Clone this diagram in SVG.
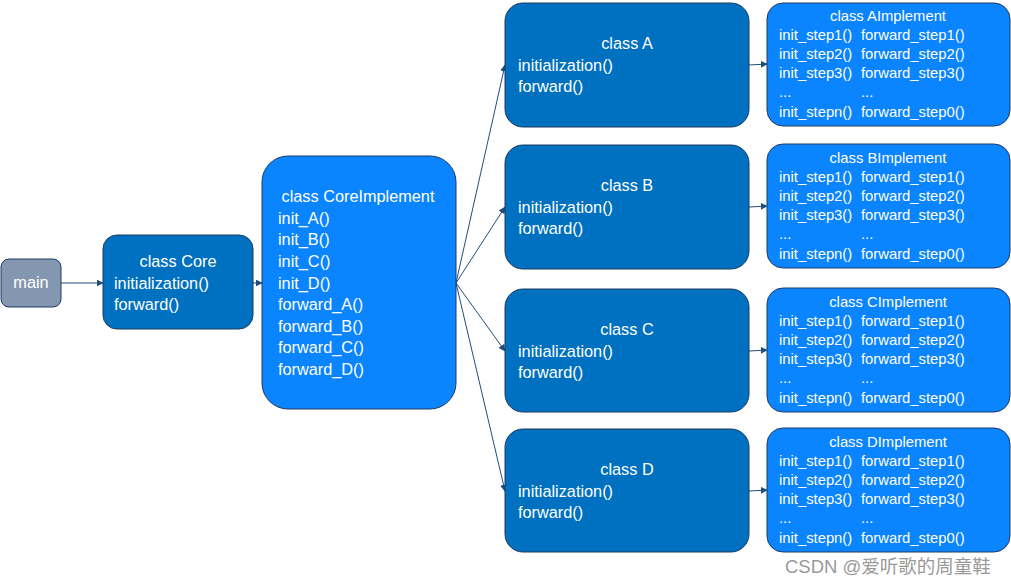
<svg xmlns="http://www.w3.org/2000/svg" width="1011" height="585" viewBox="0 0 1011 585">
<defs>
<style>
.box{stroke:#1F3A5F;stroke-width:1}
.dark{fill:#0070C0}
.light{fill:#0A84FF}
.gray{fill:#8497B0}
text{font-family:"Liberation Sans",Arial,sans-serif;fill:#fff}
.t16{font-size:16.3px}
.t14{font-size:14.8px}
.c{text-anchor:middle}
.conn{stroke:#1F4E79;stroke-width:1;fill:none}
</style>
<marker id="arr" viewBox="0 0 10 10" refX="9" refY="5" markerWidth="7" markerHeight="7" orient="auto" markerUnits="userSpaceOnUse">
<path d="M0,0 L10,5 L0,10 z" fill="#1F4E79"/>
</marker>
</defs>
<rect width="1011" height="585" fill="#fff"/>
<g id="connectors">
<line class="conn" x1="61" y1="283" x2="103" y2="283" marker-end="url(#arr)"/>
<line class="conn" x1="253" y1="283" x2="262" y2="283" marker-end="url(#arr)"/>
<line class="conn" x1="456" y1="283" x2="505" y2="65" marker-end="url(#arr)"/>
<line class="conn" x1="456" y1="283" x2="505" y2="207" marker-end="url(#arr)"/>
<line class="conn" x1="456" y1="283" x2="505" y2="351" marker-end="url(#arr)"/>
<line class="conn" x1="456" y1="283" x2="505" y2="491" marker-end="url(#arr)"/>
<line class="conn" x1="749" y1="65" x2="767" y2="64" marker-end="url(#arr)"/>
<line class="conn" x1="749" y1="207" x2="767" y2="206" marker-end="url(#arr)"/>
<line class="conn" x1="749" y1="351" x2="767" y2="350" marker-end="url(#arr)"/>
<line class="conn" x1="749" y1="491" x2="767" y2="490" marker-end="url(#arr)"/>
</g>
<g id="main">
<rect class="box gray" x="1" y="259" width="60" height="48" rx="8"/>
<text class="t16 c" x="31" y="288">main</text>
</g>
<g id="core">
<rect class="box dark" x="103" y="235" width="150" height="94" rx="14"/>
<text class="t16 c" x="178" y="267">class Core</text>
<text class="t16" x="114" y="289">initialization()</text>
<text class="t16" x="114" y="310">forward()</text>
</g>
<g id="coreImplement">
<rect class="box light" x="262" y="156" width="194" height="253" rx="26"/>
<text class="t16 c" x="358" y="202">class CoreImplement</text>
<text class="t16" x="278" y="224">init_A()</text>
<text class="t16" x="278" y="245">init_B()</text>
<text class="t16" x="278" y="267">init_C()</text>
<text class="t16" x="278" y="289">init_D()</text>
<text class="t16" x="278" y="310">forward_A()</text>
<text class="t16" x="278" y="332">forward_B()</text>
<text class="t16" x="278" y="353">forward_C()</text>
<text class="t16" x="278" y="375">forward_D()</text>
</g>
<g id="classA">
<rect class="box dark" x="505" y="3" width="244" height="124" rx="18"/>
<text class="t16 c" x="627" y="49">class A</text>
<text class="t16" x="518" y="71">initialization()</text>
<text class="t16" x="518" y="92">forward()</text>
</g>
<g id="classB">
<rect class="box dark" x="505" y="145" width="244" height="124" rx="18"/>
<text class="t16 c" x="627" y="191">class B</text>
<text class="t16" x="518" y="213">initialization()</text>
<text class="t16" x="518" y="234">forward()</text>
</g>
<g id="classC">
<rect class="box dark" x="505" y="289" width="244" height="123" rx="18"/>
<text class="t16 c" x="627" y="335">class C</text>
<text class="t16" x="518" y="357">initialization()</text>
<text class="t16" x="518" y="378">forward()</text>
</g>
<g id="classD">
<rect class="box dark" x="505" y="429" width="244" height="123" rx="18"/>
<text class="t16 c" x="627" y="475">class D</text>
<text class="t16" x="518" y="497">initialization()</text>
<text class="t16" x="518" y="518">forward()</text>
</g>
<g id="AImplement">
<rect class="box light" x="767" y="3" width="243" height="123" rx="16"/>
<text class="t14 c" x="888" y="21">class AImplement</text>
<text class="t14" x="779" y="40">init_step1()</text><text class="t14" x="861" y="40">forward_step1()</text>
<text class="t14" x="779" y="59">init_step2()</text><text class="t14" x="861" y="59">forward_step2()</text>
<text class="t14" x="779" y="78">init_step3()</text><text class="t14" x="861" y="78">forward_step3()</text>
<text class="t14" x="779" y="97">...</text><text class="t14" x="861" y="97">...</text>
<text class="t14" x="779" y="117">init_stepn()</text><text class="t14" x="861" y="117">forward_step0()</text>
</g>
<g id="BImplement">
<rect class="box light" x="767" y="144" width="243" height="124" rx="16"/>
<text class="t14 c" x="888" y="163">class BImplement</text>
<text class="t14" x="779" y="182">init_step1()</text><text class="t14" x="861" y="182">forward_step1()</text>
<text class="t14" x="779" y="201">init_step2()</text><text class="t14" x="861" y="201">forward_step2()</text>
<text class="t14" x="779" y="220">init_step3()</text><text class="t14" x="861" y="220">forward_step3()</text>
<text class="t14" x="779" y="239">...</text><text class="t14" x="861" y="239">...</text>
<text class="t14" x="779" y="259">init_stepn()</text><text class="t14" x="861" y="259">forward_step0()</text>
</g>
<g id="CImplement">
<rect class="box light" x="767" y="288" width="243" height="124" rx="16"/>
<text class="t14 c" x="888" y="307">class CImplement</text>
<text class="t14" x="779" y="326">init_step1()</text><text class="t14" x="861" y="326">forward_step1()</text>
<text class="t14" x="779" y="345">init_step2()</text><text class="t14" x="861" y="345">forward_step2()</text>
<text class="t14" x="779" y="364">init_step3()</text><text class="t14" x="861" y="364">forward_step3()</text>
<text class="t14" x="779" y="383">...</text><text class="t14" x="861" y="383">...</text>
<text class="t14" x="779" y="403">init_stepn()</text><text class="t14" x="861" y="403">forward_step0()</text>
</g>
<g id="DImplement">
<rect class="box light" x="767" y="428" width="243" height="124" rx="16"/>
<text class="t14 c" x="888" y="447">class DImplement</text>
<text class="t14" x="779" y="466">init_step1()</text><text class="t14" x="861" y="466">forward_step1()</text>
<text class="t14" x="779" y="485">init_step2()</text><text class="t14" x="861" y="485">forward_step2()</text>
<text class="t14" x="779" y="504">init_step3()</text><text class="t14" x="861" y="504">forward_step3()</text>
<text class="t14" x="779" y="523">...</text><text class="t14" x="861" y="523">...</text>
<text class="t14" x="779" y="543">init_stepn()</text><text class="t14" x="861" y="543">forward_step0()</text>
</g>
<text x="785" y="573" style="font-family:'Liberation Sans','Noto Sans CJK SC',sans-serif;font-size:18.5px;fill:#9a9a9a">CSDN @爱听歌的周童鞋</text>
</svg>
